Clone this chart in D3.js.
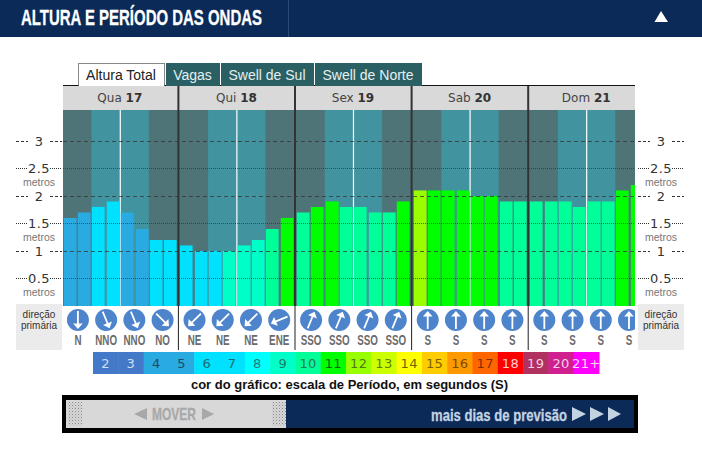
<!DOCTYPE html>
<html>
<head>
<meta charset="utf-8">
<script src="https://cdn.jsdelivr.net/npm/d3@7"></script>
<style>
  html, body { margin: 0; padding: 0; background: #fff; overflow: hidden; }
  svg { display: block; }
  .narrow { font-family: "Liberation Sans", Arial, sans-serif; font-weight: 700; }
  .arial { font-family: "Liberation Sans", Arial, sans-serif; }
  .verdana { font-family: "DejaVu Sans", Verdana, sans-serif; }
</style>
</head>
<body>
<div id="chart"></div>
<script>
const days = ["Qua", "Qui", "Sex", "Sab", "Dom"];
const dayNums = ["17", "18", "19", "20", "21"];

// altura (m), 8 por dia
const heights = [
  [1.6, 1.7, 1.8, 1.9, 1.7, 1.4, 1.2, 1.2],
  [1.1, 1.0, 1.0, 1.0, 1.1, 1.2, 1.4, 1.6],
  [1.7, 1.8, 1.9, 1.8, 1.8, 1.7, 1.7, 1.9],
  [2.1, 2.1, 2.1, 2.1, 2.0, 2.0, 1.9, 1.9],
  [1.9, 1.9, 1.9, 1.8, 1.9, 1.9, 2.1, 2.2]
];
// periodo (s), 8 por dia
const periods = [
  [5, 5, 7, 7, 5, 5, 7, 7],
  [7, 7, 7, 9, 9, 9, 10, 11],
  [10, 11, 11, 10, 10, 10, 10, 11],
  [12, 11, 11, 11, 11, 11, 10, 10],
  [10, 10, 10, 10, 10, 10, 11, 11]
];
// direcao primaria, 4 por dia
const directions = [
  ["N", "NNO", "NNO", "NO"],
  ["NE", "NE", "NE", "ENE"],
  ["SSO", "SSO", "SSO", "SSO"],
  ["S", "S", "S", "S"],
  ["S", "S", "S", "S"]
];
const dirDegrees = { N: 0, NNO: 337.5, NO: 315, NE: 45, ENE: 67.5, SSO: 202.5, S: 180 };

const tabs = ["Altura Total", "Vagas", "Swell de Sul", "Swell de Norte"];
const tabEdges = [78, 166, 221, 315, 423];

const heightTicks = [0.5, 1, 1.5, 2, 2.5, 3];
const scaleLabels = ["2", "3", "4", "5", "6", "7", "8", "9", "10", "11", "12", "13", "14", "15", "16", "17", "18", "19", "20", "21+"];
const scaleColors = ["#4478c8", "#4478c8", "#29abe2", "#29abe2", "#00e0ff", "#00e0ff", "#00ffff", "#00ffc8", "#00ff99", "#00ff00",
  "#99ff00", "#ccff00", "#ffff00", "#ffcc00", "#ff9900", "#ff6600", "#ff0000", "#b03060", "#d02090", "#ff00ff"];
const scaleText = ["#cfe0f5", "#cfe0f5", "#1f4a66", "#1f4a66", "#1f6a77", "#1f6a77", "#1f7a7a", "#1f7a66", "#1f7a55", "#14620f",
  "#4f7a10", "#607a10", "#6a6a00", "#7a6200", "#7a4a00", "#7a3300", "#ffd0d0", "#f0d0e0", "#f5d0e8", "#ffd8ff"];

const width = 702, height = 451;
const plot = { left: 63, right: 635, top: 110, bottom: 306 };

const svg = d3.select("#chart").append("svg")
  .attr("width", width)
  .attr("height", height);

const defs = svg.append("defs");
defs.append("clipPath").attr("id", "plotclip")
  .append("rect")
  .attr("x", plot.left).attr("y", 80)
  .attr("width", plot.right - plot.left).attr("height", 280);

const dots = defs.append("pattern").attr("id", "dots")
  .attr("width", 3).attr("height", 3).attr("patternUnits", "userSpaceOnUse");
dots.append("rect").attr("width", 3).attr("height", 3).attr("fill", "#d8d8d8");
dots.append("rect").attr("width", 1).attr("height", 1).attr("fill", "#888");
dots.append("rect").attr("x", 1.5).attr("y", 1.5).attr("width", 1).attr("height", 1).attr("fill", "#aaa");

const yscale = d3.scaleLinear().domain([0, 3]).range([306, 141]);

const dayscale = d3.scaleBand().domain(d3.range(5)).range([61.3, 61.3 + 5 * 116.6]);
const barscale = d3.scaleBand().domain(d3.range(8))
  .range([2.5, 115.4]).paddingInner(0.13);
const dirscale = d3.scaleBand().domain(d3.range(4)).range([2.5, 115.4]);

const legendscale = d3.scaleBand().domain(scaleLabels).range([93, 599]);
const colorOf = p => scaleColors[scaleLabels.indexOf(String(p))];

// cabecalho
svg.append("rect").attr("width", width).attr("height", 37).attr("fill", "#0b2a57");
svg.append("line").attr("x1", 288.5).attr("x2", 288.5).attr("y1", 0).attr("y2", 37).attr("stroke", "#2b4a75");
svg.append("text").attr("class", "narrow")
  .attr("x", 21).attr("y", 25)
  .attr("font-size", 22)
  .attr("fill", "#fff")
  .attr("stroke", "#fff")
  .attr("stroke-width", 0.3)
  .attr("textLength", 241)
  .attr("lengthAdjust", "spacingAndGlyphs")
  .text("ALTURA E PERÍODO DAS ONDAS");
svg.append("path").attr("d", "M654.5,22L661,11L668,22Z").attr("fill", "#fff");

// abas
svg.append("line").attr("x1", 63).attr("x2", plot.right).attr("y1", 85.5).attr("y2", 85.5).attr("stroke", "#111");
tabs.forEach(function (t, i) {
  const x0 = tabEdges[i], x1 = tabEdges[i + 1] - 1;
  svg.append("rect")
    .attr("x", x0 + 0.5).attr("y", 63.5)
    .attr("width", x1 - x0 - 1).attr("height", i == 0 ? 23 : 22)
    .attr("fill", i == 0 ? "#fff" : "#2a5f63")
    .attr("stroke", i == 0 ? "#111" : "#2a5f63")
    .attr("stroke-dasharray", i == 0 ? "1,1" : null);
  svg.append("text").attr("class", "arial")
    .attr("x", (x0 + x1) / 2 - 0.5).attr("y", 80)
    .attr("text-anchor", "middle")
    .attr("font-size", 14)
    .attr("fill", i == 0 ? "#222" : "#e4f0f0")
    .text(t);
});

// area do grafico
const chart = svg.append("g").attr("clip-path", "url(#plotclip)");

days.forEach(function (day, i) {
  const x0 = dayscale(i);
  const g = chart.append("g").attr("transform", `translate(${x0},0)`);
  const barX = j => Math.round(x0 + barscale(j)) - x0;
  const barW = Math.round(barscale.bandwidth() * 2) / 2;

  g.append("rect").attr("x", 0).attr("y", 86).attr("width", 118).attr("height", 24).attr("fill", "#d9d9d9");
  g.append("rect").attr("x", 0).attr("y", plot.top).attr("width", 118).attr("height", plot.bottom - plot.top).attr("fill", "#4f7478");
  g.append("rect")
    .attr("x", barscale(2) - 1)
    .attr("y", plot.top)
    .attr("width", barscale(6) - barscale(2))
    .attr("height", plot.bottom - plot.top)
    .attr("fill", "#41939f");
  g.append("rect")
    .attr("x", barscale(4) - 1.5)
    .attr("y", plot.top)
    .attr("width", 1.2)
    .attr("height", plot.bottom - plot.top)
    .attr("fill", "#fff");

  // borda translucida das barras
  g.selectAll(".barglow")
    .data(heights[i])
    .enter().append("rect")
    .attr("class", "barglow")
    .attr("x", (d, j) => barX(j) - 1)
    .attr("y", d => yscale(d))
    .attr("width", barW + 2)
    .attr("height", d => yscale(0) - yscale(d))
    .attr("fill", (d, j) => colorOf(periods[i][j]))
    .attr("opacity", 0.22);

  g.selectAll(".bar")
    .data(heights[i])
    .enter().append("rect")
    .attr("class", "bar")
    .attr("x", (d, j) => barX(j))
    .attr("y", d => yscale(d))
    .attr("width", barW)
    .attr("height", d => yscale(0) - yscale(d))
    .attr("fill", (d, j) => colorOf(periods[i][j]));

  const label = g.append("text").attr("class", "verdana")
    .attr("x", 58.5).attr("y", 101.5)
    .attr("text-anchor", "middle")
    .attr("font-size", 12)
    .attr("fill", "#444");
  label.append("tspan").text(day + " ");
  label.append("tspan").attr("font-weight", 700).attr("fill", "#333").text(dayNums[i]);

  const dir = g.selectAll(".dir")
    .data(directions[i])
    .enter().append("g")
    .attr("class", "dir")
    .attr("transform", (d, j) => `translate(${dirscale(j) + dirscale.bandwidth() / 2},0)`);
  dir.append("circle").attr("cx", 0).attr("cy", 320).attr("r", 11).attr("fill", "#4d84cc");
  dir.append("path")
    .attr("transform", d => `translate(0,320) rotate(${dirDegrees[d]})`)
    .attr("d", "M-0.9,-9L0.9,-9L0.9,3.5L4.8,3.5L0,9L-4.8,3.5L-0.9,3.5Z")
    .attr("fill", "#fff");
  dir.append("text").attr("class", "narrow")
    .attr("transform", "translate(0,344.5) scale(0.7,1)")
    .attr("text-anchor", "middle")
    .attr("font-size", 14)
    .attr("fill", "#6b6b6b")
    .text(d => d);
});

// linhas das alturas
chart.selectAll(".grid")
  .data(heightTicks)
  .enter().append("line")
  .attr("class", "grid")
  .attr("x1", plot.left).attr("x2", plot.right)
  .attr("y1", d => Math.floor(yscale(d)) + 0.5)
  .attr("y2", d => Math.floor(yscale(d)) + 0.5)
  .attr("stroke", "#333")
  .attr("stroke-opacity", 0.75)
  .attr("stroke-dasharray", d => d % 1 == 0 ? "4,3" : "1,1");

// separadores dos dias
d3.range(1, 5).forEach(function (i) {
  const x = dayscale(i);
  chart.append("rect").attr("x", x - 0.5).attr("y", 86).attr("width", 2).attr("height", 220).attr("fill", "#333");
  chart.append("rect").attr("x", x).attr("y", 306).attr("width", 1).attr("height", 44).attr("fill", "#222");
});

// rotulos laterais
[{ x0: 16, x1: 62 }, { x0: 638, x1: 684 }].forEach(function (side) {
  const cx = (side.x0 + side.x1) / 2;
  const g = svg.append("g");
  g.selectAll(".tick")
    .data(heightTicks)
    .enter().append("g")
    .attr("class", "tick")
    .each(function (d) {
      const y = Math.floor(yscale(d)) + 0.5;
      const t = d3.select(this);
      const whole = d % 1 == 0;
      const half = 11;
      [[side.x0, cx - half], [cx + half, side.x1]].forEach(function (seg) {
        t.append("line")
          .attr("x1", seg[0]).attr("x2", seg[1])
          .attr("y1", y).attr("y2", y)
          .attr("stroke", "#333")
          .attr("stroke-dasharray", whole ? "3,2" : "1,1");
      });
      t.append("text").attr("class", "verdana")
        .attr("x", cx).attr("y", y + 4.5)
        .attr("text-anchor", "middle")
        .attr("font-size", 13)
        .attr("letter-spacing", whole ? 0 : 0.4)
        .attr("fill", "#333")
        .text(d);
      if (!whole) {
        t.append("text").attr("class", "arial")
          .attr("x", cx).attr("y", y + 17)
          .attr("text-anchor", "middle")
          .attr("font-size", 10.5)
          .attr("fill", "#777")
          .text("metros");
      }
    });
  g.append("rect")
    .attr("x", side.x0).attr("y", 304)
    .attr("width", side.x1 - side.x0).attr("height", 46)
    .attr("fill", "#ebebeb");
  g.append("text").attr("class", "arial")
    .attr("x", cx).attr("y", 318).attr("text-anchor", "middle")
    .attr("font-size", 10).attr("fill", "#333").text("direção");
  g.append("text").attr("class", "arial")
    .attr("x", cx).attr("y", 329).attr("text-anchor", "middle")
    .attr("font-size", 10).attr("fill", "#333").text("primária");
});

// escala de periodo
const legend = svg.selectAll(".legend")
  .data(scaleLabels)
  .enter().append("g")
  .attr("class", "legend");
legend.append("rect")
  .attr("x", d => legendscale(d))
  .attr("y", 352)
  .attr("width", legendscale.bandwidth() + 0.5)
  .attr("height", 22)
  .attr("fill", (d, i) => scaleColors[i]);
legend.append("text").attr("class", "verdana")
  .attr("x", d => legendscale(d) + legendscale.bandwidth() / 2)
  .attr("y", 368)
  .attr("text-anchor", "middle")
  .attr("font-size", 13)
  .attr("letter-spacing", 0.4)
  .attr("fill", (d, i) => scaleText[i])
  .text(d => d);

svg.append("text").attr("class", "arial")
  .attr("x", 349.5).attr("y", 388.5)
  .attr("text-anchor", "middle")
  .attr("font-size", 13)
  .attr("font-weight", 700)
  .attr("fill", "#111")
  .text("cor do gráfico: escala de Período, em segundos (S)");

// barra de navegacao
svg.append("rect").attr("x", 62).attr("y", 395).attr("width", 576).attr("height", 38).attr("fill", "#000");
svg.append("rect").attr("x", 66).attr("y", 400).attr("width", 568).attr("height", 28).attr("fill", "#0b2a57");
svg.append("rect").attr("x", 66).attr("y", 400).attr("width", 220).attr("height", 28).attr("fill", "#d8d8d8");
[68, 272].forEach(function (x) {
  svg.append("rect").attr("x", x).attr("y", 402).attr("width", 14).attr("height", 24).attr("fill", "url(#dots)");
});
svg.append("text").attr("class", "narrow")
  .attr("x", 152).attr("y", 420)
  .attr("font-size", 17)
  .attr("fill", "#a8a8a8")
  .attr("stroke", "#a8a8a8")
  .attr("stroke-width", 0.3)
  .attr("textLength", 44)
  .attr("lengthAdjust", "spacingAndGlyphs")
  .text("MOVER");
svg.append("path").attr("d", "M134,414L147,408L147,420Z M202,408L214,414L202,420Z").attr("fill", "#a8a8a8");
svg.append("text").attr("class", "narrow")
  .attr("x", 431).attr("y", 420.5)
  .attr("font-size", 17)
  .attr("fill", "#c3d3e2")
  .attr("stroke", "#c3d3e2")
  .attr("stroke-width", 0.3)
  .attr("textLength", 136)
  .attr("lengthAdjust", "spacingAndGlyphs")
  .text("mais dias de previsão");
svg.append("path")
  .attr("d", "M572,407L586,414L572,421Z M590,407L604,414L590,421Z M608,407L621,414L608,421Z")
  .attr("fill", "#c3d3e2");
</script>
</body>
</html>
